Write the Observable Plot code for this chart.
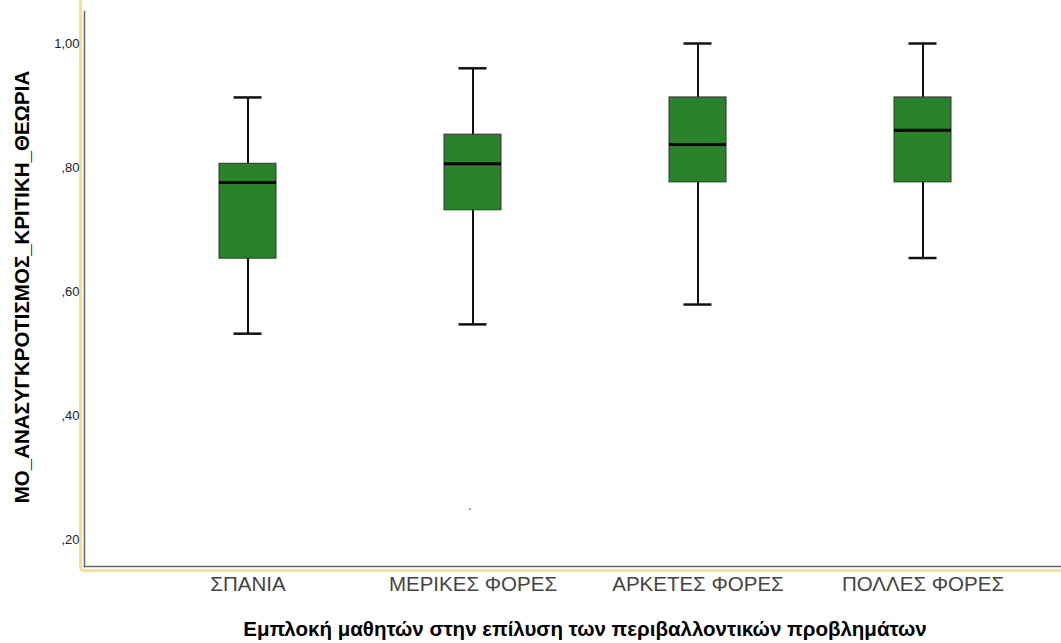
<!DOCTYPE html>
<html>
<head>
<meta charset="utf-8">
<script src="https://cdn.jsdelivr.net/npm/d3@7"></script>
<script src="https://cdn.jsdelivr.net/npm/@observablehq/plot@0.6"></script>
<style>
  html, body { margin: 0; padding: 0; background: #fff; }
  #chart svg { display: block; }
</style>
</head>
<body>
<div id="chart"></div>
<script>
const categories = ["ΣΠΑΝΙΑ", "ΜΕΡΙΚΕΣ ΦΟΡΕΣ", "ΑΡΚΕΤΕΣ ΦΟΡΕΣ", "ΠΟΛΛΕΣ ΦΟΡΕΣ"];
const whiskerLow = [0.532, 0.547, 0.579, 0.654];
const q1 = [0.653, 0.731, 0.776, 0.776];
const median = [0.776, 0.806, 0.837, 0.860];
const q3 = [0.806, 0.853, 0.913, 0.913];
const whiskerHigh = [0.913, 0.960, 1.0, 1.0];
const outlierCategory = ["ΜΕΡΙΚΕΣ ΦΟΡΕΣ"];
const outlierValue = [0.249];
const yTicks = [0.2, 0.4, 0.6, 0.8, 1.0];
const yLabel = "ΜΟ_ΑΝΑΣΥΓΚΡΟΤΙΣΜΟΣ_ΚΡΙΤΙΚΗ_ΘΕΩΡΙΑ";
const xLabel = "Εμπλοκή μαθητών στην επίλυση των περιβαλλοντικών προβλημάτων";

const boxes = categories.map((c, i) => ({
  cat: c, lo: whiskerLow[i], q1: q1[i], med: median[i], q3: q3[i], hi: whiskerHigh[i]
}));
const outliers = outlierCategory.map((c, i) => ({cat: c, v: outlierValue[i]}));

const fmt = d => d3.format(".2f")(d).replace(/^0/, "").replace(".", ",");
const font = "'Liberation Sans', Arial, sans-serif";

const chart = Plot.plot({
  width: 1061,
  height: 643,
  marginLeft: 84,
  marginRight: 0,
  marginTop: 11,
  marginBottom: 77,
  style: {fontFamily: font, background: "#fff", color: "#222"},
  x: {domain: categories, range: [134.5, 1034.5], paddingInner: 0.747, paddingOuter: 0.3735, align: 0.5},
  y: {domain: [0.1565, 1.0516]},
  marks: [
    Plot.frame({stroke: "#fbe08a", strokeWidth: 3, insetLeft: -4, insetBottom: -4, insetTop: -40, insetRight: -40, rx: 4}),
    Plot.frame({anchor: "left", stroke: "#666", strokeWidth: 1.5}),
    Plot.frame({anchor: "bottom", stroke: "#666", strokeWidth: 1.5}),
    Plot.axisY({ticks: yTicks, tickFormat: fmt, tickSize: 0, tickPadding: 5, fontSize: 13, label: null, fill: "#222"}),
    Plot.axisX({tickSize: 0, tickPadding: 10, fontSize: 20.5, label: null, fill: "#444"}),
    Plot.text([yLabel], {text: d => d, frameAnchor: "left", dx: -62, dy: -2, rotate: -90, textAnchor: "middle", fontSize: 20.5, fontWeight: "bold", fill: "#000"}),
    Plot.text([xLabel], {text: d => d, frameAnchor: "bottom", dx: 12, dy: 69, fontSize: 20.5, fontWeight: "bold", fill: "#000"}),
    Plot.ruleX(boxes, {x: "cat", y1: "lo", y2: "hi", stroke: "#111", strokeWidth: 2}),
    Plot.tickY(boxes, {x: "cat", y: "lo", stroke: "#111", strokeWidth: 2.5, insetLeft: 14.5, insetRight: 14.5}),
    Plot.tickY(boxes, {x: "cat", y: "hi", stroke: "#111", strokeWidth: 2.5, insetLeft: 14.5, insetRight: 14.5}),
    Plot.barY(boxes, {x: "cat", y1: "q1", y2: "q3", fill: "#2a832a", stroke: "#333", strokeWidth: 1}),
    Plot.tickY(boxes, {x: "cat", y: "med", stroke: "#000", strokeWidth: 3}),
    Plot.dot(outliers, {x: "cat", y: "v", dx: -3, r: 1, fill: "#888", stroke: null})
  ]
});
document.getElementById("chart").appendChild(chart);
</script>
</body>
</html>
